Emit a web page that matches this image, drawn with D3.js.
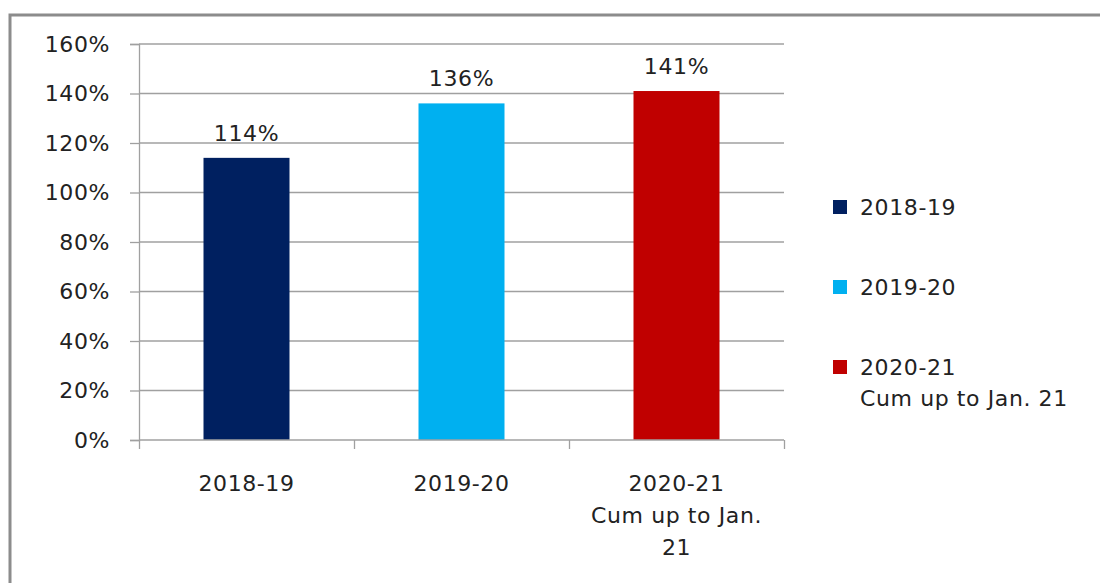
<!DOCTYPE html>
<html>
<head>
<meta charset="utf-8">
<script src="https://cdn.jsdelivr.net/npm/d3@7"></script>
<style>
  body { margin: 0; background: #fff; }
  text { font-family: "DejaVu Sans", sans-serif; fill: #222; }
</style>
</head>
<body>
<svg width="1100" height="583"></svg>
<script>
// data
var categories = ["2018-19", "2019-20", "2020-21\nCum up to Jan.\n21"];
var legendLabels = ["2018-19", "2019-20", "2020-21\nCum up to Jan. 21"];
var values = [114, 136, 141];
var yTicks = [0, 20, 40, 60, 80, 100, 120, 140, 160];
var colors = ["#002060", "#00B0F0", "#C00000"];

var fontSize = 22;

var svg = d3.select("svg"),
    margin = {top: 44, left: 139},
    width = 645,
    height = 396,
    g = svg.append("g").attr("transform", "translate(" + margin.left + "," + margin.top + ")");

// outer frame (only top and left edges are visible)
svg.append("path")
    .attr("d", "M10,583V15H1100")
    .attr("fill", "none")
    .attr("stroke", "#8c8c8c")
    .attr("stroke-width", 3);

var x = d3.scaleBand()
    .domain(d3.range(categories.length))
    .range([0, width])
    .paddingInner(0.6)
    .paddingOuter(0.3);

var y = d3.scaleLinear()
    .domain([0, 160])
    .range([height, 0]);

// gridlines
g.append("g")
  .selectAll("line")
  .data(yTicks.slice(1))
  .enter().append("line")
    .attr("x1", 0)
    .attr("x2", width)
    .attr("y1", function(d) { return y(d); })
    .attr("y2", function(d) { return y(d); })
    .attr("stroke", "#a0a0a0")
    .attr("stroke-width", 1.3);

// y axis
var yAxis = g.append("g")
    .call(d3.axisLeft(y).tickValues(yTicks).tickSize(9).tickPadding(20)
      .tickFormat(function(d) { return d + "%"; }));
yAxis.select(".domain").attr("stroke", "#a0a0a0").attr("stroke-width", 1.3);
yAxis.selectAll(".tick line").attr("stroke", "#a0a0a0").attr("stroke-width", 1.3);
yAxis.selectAll("text").attr("font-size", fontSize).attr("fill", "#222")
    .attr("font-family", "DejaVu Sans, sans-serif")
    .attr("letter-spacing", 0.6);

// bars
g.append("g")
  .selectAll("rect")
  .data(values)
  .enter().append("rect")
    .attr("x", function(d, i) { return x(i); })
    .attr("y", function(d) { return y(d); })
    .attr("width", x.bandwidth())
    .attr("height", function(d) { return height - y(d); })
    .attr("fill", function(d, i) { return colors[i]; });

// value labels
g.append("g")
  .selectAll("text")
  .data(values)
  .enter().append("text")
    .attr("x", function(d, i) { return x(i) + x.bandwidth() / 2; })
    .attr("y", function(d) { return y(d) - 17; })
    .attr("text-anchor", "middle")
    .attr("font-size", fontSize)
    .attr("letter-spacing", 0.6)
    .text(function(d) { return d + "%"; });

// x axis: bottom line with ticks at category boundaries
var xBound = d3.scaleLinear().domain([0, categories.length]).range([0, width]);
var xAxis = g.append("g")
    .attr("transform", "translate(0," + height + ")")
    .call(d3.axisBottom(xBound).ticks(categories.length).tickSize(9).tickFormat(""));
xAxis.select(".domain").attr("stroke", "#a0a0a0").attr("stroke-width", 1.3)
    .attr("d", "M0,0H" + width);
xAxis.selectAll(".tick line").attr("stroke", "#a0a0a0").attr("stroke-width", 1.3);

// category labels
g.append("g")
  .selectAll("text")
  .data(categories)
  .enter().append("text")
    .attr("text-anchor", "middle")
    .attr("font-size", fontSize)
    .attr("letter-spacing", 0.6)
    .attr("transform", function(d, i) {
      return "translate(" + (x(i) + x.bandwidth() / 2) + "," + (height + 51) + ")";
    })
    .each(function(d) {
      var t = d3.select(this);
      d.split("\n").forEach(function(line, k) {
        t.append("tspan").attr("x", 0).attr("y", k * 32).text(line);
      });
    });

// legend
var legend = svg.append("g")
  .selectAll("g")
  .data(legendLabels)
  .enter().append("g")
    .attr("transform", function(d, i) { return "translate(833," + (200 + i * 80) + ")"; });

legend.append("rect")
    .attr("width", 14)
    .attr("height", 14)
    .attr("fill", function(d, i) { return colors[i]; });

legend.append("text")
    .attr("font-size", fontSize)
    .attr("letter-spacing", 0.6)
    .each(function(d) {
      var t = d3.select(this);
      d.split("\n").forEach(function(line, k) {
        t.append("tspan").attr("x", 27).attr("y", 15 + k * 31).text(line);
      });
    });
</script>
</body>
</html>
